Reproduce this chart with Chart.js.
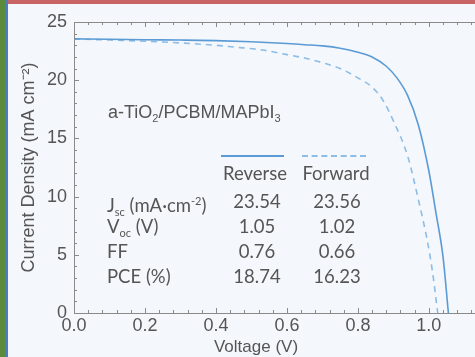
<!DOCTYPE html>
<html>
<head>
<meta charset="utf-8">
<script src="https://cdn.jsdelivr.net/npm/chart.js@4"></script>
<style>
  html, body { margin: 0; padding: 0; }
  body { width: 475px; height: 357px; overflow: hidden; background: #f4f7fb; position: relative; }
  #wrap { position: absolute; left: 0; top: 0; width: 475px; height: 357px; }
  .bar-top { position: absolute; left: 0; top: 0; width: 475px; height: 4px; background: #c96464; }
  .bar-green { position: absolute; left: 0; top: 0; width: 5px; height: 357px; background: #5b8a3c; }
  .bar-blue { position: absolute; left: 5px; top: 0; width: 3px; height: 357px; background: #4a7cc4; }
  .note { position: absolute; color: #555; white-space: nowrap; line-height: 22px; }
  .sample { font-family: Arial, "Liberation Sans", sans-serif; font-size: 18px; left: 108px; top: 101px; }
  .sample sub { font-size: 11px; vertical-align: -4px; }
  .xtitle { font-family: Arial, "Liberation Sans", sans-serif; font-size: 17px; left: 176px; width: 160px; text-align: center; top: 336px; }
  .tbl { font-family: Lato, "Open Sans", sans-serif; font-size: 18.5px; }
  .tbl sub { font-size: 11px; vertical-align: -4px; }
  .tbl sup { font-size: 11px; vertical-align: 7px; }
  .col { text-align: center; width: 80px; }
</style>
</head>
<body>
<div id="wrap"><canvas id="myChart" width="475" height="357"></canvas></div>
<div class="bar-top"></div>
<div class="bar-green"></div>
<div class="bar-blue"></div>
<div id="notes"></div>

<script>
    // Datos de las curvas J-V
    const voltajeReverse = [0, 0.1, 0.2, 0.3, 0.4, 0.5, 0.6, 0.65, 0.7, 0.75, 0.8, 0.84, 0.88, 0.91, 0.94, 0.97, 1.0, 1.02, 1.04, 1.055];
    const corrienteReverse = [23.55, 23.52, 23.48, 23.45, 23.4, 23.3, 23.15, 23.05, 22.95, 22.75, 22.4, 22.0, 21.2, 20.2, 18.7, 16.2, 12.2, 8.6, 4.8, 0];
    const voltajeForward = [0, 0.1, 0.2, 0.3, 0.4, 0.45, 0.53, 0.6, 0.65, 0.7, 0.75, 0.8, 0.84, 0.87, 0.9, 0.94, 0.97, 0.995, 1.01, 1.025];
    const corrienteForward = [23.55, 23.45, 23.35, 23.2, 23.0, 22.85, 22.6, 22.2, 21.9, 21.5, 21.0, 20.2, 19.4, 18.3, 16.5, 13.5, 9.8, 6.3, 3.6, 0];

    const xTicks = [0, 0.2, 0.4, 0.6, 0.8, 1.0];
    const yTicks = [0, 5, 10, 15, 20, 25];

    // Tabla de parámetros
    const parametros = ['J<sub>sc</sub> (mA·cm<sup>-2</sup>)', 'V<sub>oc</sub> (V)', 'FF', 'PCE (%)'];
    const valoresReverse = ['23.54', '1.05', '0.76', '18.74'];
    const valoresForward = ['23.56', '1.02', '0.66', '16.23'];
    const muestra = 'a-TiO<sub>2</sub>/PCBM/MAPbI<sub>3</sub>';

    const colorReverse = '#5b9bd5';
    const colorForward = '#8dbde6';

    const toPoints = (xs, ys) => xs.map((v, i) => ({ x: v, y: ys[i] }));

    // Marco y marcas hacia adentro
    const framePlugin = {
        id: 'frame',
        afterDraw(chart) {
            const { ctx, chartArea: a, scales: { x, y } } = chart;
            ctx.save();
            ctx.strokeStyle = '#8a8a8a';
            ctx.lineWidth = 1;
            ctx.beginPath();
            ctx.moveTo(a.right, a.top + 0.5);
            ctx.lineTo(a.left + 0.5, a.top + 0.5);
            ctx.lineTo(a.left + 0.5, a.bottom + 0.5);
            ctx.lineTo(a.right, a.bottom + 0.5);
            for (let i = 0; i <= 30; i++) {
                const v = i * 0.04;
                const px = Math.round(x.getPixelForValue(v)) + 0.5;
                if (px > a.right) break;
                const len = i % 5 === 0 ? 5 : 3;
                ctx.moveTo(px, a.bottom);
                ctx.lineTo(px, a.bottom - len);
                ctx.moveTo(px, a.top);
                ctx.lineTo(px, a.top + len);
            }
            for (let i = 0; i <= 25; i++) {
                const py = Math.round(y.getPixelForValue(i)) + 0.5;
                const len = i % 5 === 0 ? 5 : 3;
                ctx.moveTo(a.left, py);
                ctx.lineTo(a.left + len, py);
            }
            ctx.stroke();
            ctx.restore();
        }
    };

    const ctx = document.getElementById('myChart').getContext('2d');
    const myChart = new Chart(ctx, {
        type: 'line',
        data: {
            datasets: [
                {
                    label: 'Reverse',
                    data: toPoints(voltajeReverse, corrienteReverse),
                    borderColor: colorReverse,
                    borderWidth: 1.6,
                    pointRadius: 0,
                    cubicInterpolationMode: 'monotone',
                    fill: false
                },
                {
                    label: 'Forward',
                    data: toPoints(voltajeForward, corrienteForward),
                    borderColor: colorForward,
                    borderWidth: 1.6,
                    borderDash: [6, 5],
                    pointRadius: 0,
                    cubicInterpolationMode: 'monotone',
                    fill: false
                }
            ]
        },
        options: {
            responsive: false,
            animation: false,
            layout: { padding: { left: 18, top: 22, right: 0, bottom: 0 } },
            plugins: { legend: { display: false }, tooltip: { enabled: false } },
            scales: {
                x: {
                    type: 'linear',
                    min: 0,
                    max: 1.13,
                    grid: { display: false, drawTicks: false },
                    border: { display: false },
                    afterBuildTicks: (scale) => { scale.ticks = xTicks.map(v => ({ value: v })); },
                    afterFit: (scale) => { scale.height = 44; },
                    ticks: {
                        padding: 2,
                        maxRotation: 0,
                        color: '#555',
                        font: { family: 'Arial, "Liberation Sans", sans-serif', size: 18 },
                        callback: (v) => Number(v).toFixed(1)
                    }
                },
                y: {
                    min: 0,
                    max: 25,
                    grid: { display: false, drawTicks: false },
                    border: { display: false },
                    afterBuildTicks: (scale) => { scale.ticks = yTicks.map(v => ({ value: v })); },
                    afterFit: (scale) => { scale.width = 56; },
                    ticks: {
                        padding: 7,
                        color: '#555',
                        font: { family: 'Arial, "Liberation Sans", sans-serif', size: 18 }
                    },
                    title: {
                        display: true,
                        text: 'Current Density (mA cm\u207B\u00B2)',
                        color: '#555',
                        padding: { top: 0, bottom: 0 },
                        font: { family: 'Arial, "Liberation Sans", sans-serif', size: 18 }
                    }
                }
            }
        },
        plugins: [framePlugin]
    });

    // Anotaciones en HTML (texto real)
    const notes = document.getElementById('notes');
    let html = `<div class="note sample">${muestra}</div>`;
    html += `<div class="note xtitle">Voltage (V)</div>`;
    html += `<div style="position:absolute;left:221px;top:155px;width:63px;border-top:2px solid ${colorReverse}"></div>`;
    html += `<div style="position:absolute;left:302px;top:155px;width:64px;border-top:2px dashed ${colorForward}"></div>`;
    html += `<div class="note tbl col" style="left:215px;top:162px">Reverse</div>`;
    html += `<div class="note tbl col" style="left:296px;top:162px">Forward</div>`;
    parametros.forEach((p, i) => {
        const top = 190 + i * 25;
        html += `<div class="note tbl" style="left:107px;top:${top}px">${p}</div>`;
        html += `<div class="note tbl col" style="left:217px;top:${top}px">${valoresReverse[i]}</div>`;
        html += `<div class="note tbl col" style="left:297px;top:${top}px">${valoresForward[i]}</div>`;
    });
    notes.innerHTML = html;
</script>
</body>
</html>
